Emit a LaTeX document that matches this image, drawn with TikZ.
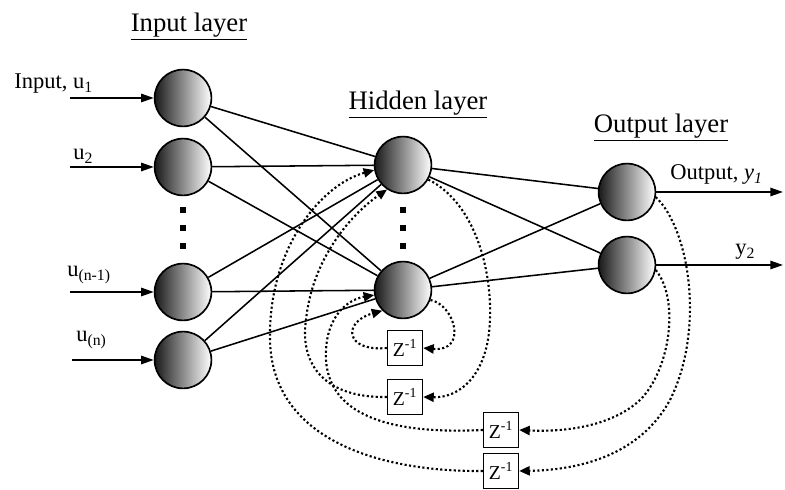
\documentclass[tikz,border=0pt]{standalone}
\usepackage{fontspec}
\setmainfont{Liberation Serif}
\usetikzlibrary{arrows.meta,positioning}

\tikzset{
  neuron/.style={circle,draw,line width=1.2pt,minimum size=1.42cm,inner sep=0pt,left color=black!90,right color=white},
  delaybox/.style={draw,line width=1pt,minimum size=0.875cm,inner sep=0pt,fill=white,font=\fontsize{14}{16}\selectfont},
  link/.style={line width=1.1pt},
  feedback/.style={line width=1.5pt,dash pattern=on 1.5pt off 1.7pt,-{Triangle[length=7.5pt,width=6.5pt]}},
  layername/.style={font=\fontsize{19}{22}\selectfont},
  signal/.style={font=\fontsize{16}{19}\selectfont,inner sep=0pt},
}

\begin{document}
\begin{tikzpicture}[x=0.025cm,y=-0.025cm,>={Triangle[length=9pt,width=6pt]}]
\useasboundingbox (0,0) rectangle (785,490);

% layer titles
\node[layername,anchor=base] (tin)  at (189,32)  {\underline{Input layer}};
\node[layername,anchor=base] (thid) at (418,110) {\underline{Hidden layer}};
\node[layername,anchor=base] (tout) at (661,133) {\underline{Output layer}};

% neurons
\foreach \n/\y in {1/98,2/167,3/292,4/360}
  \node[neuron] (in\n) at (183,\y) {};
\node[neuron] (hid1) at (403,165) {};
\node[neuron] (hid2) at (403,290) {};
\node[neuron] (out1) at (627,192) {};
\node[neuron] (out2) at (627,265) {};

% vertical ellipses
\foreach \x in {183,403}
  \foreach \y in {210,228,246}
    \fill (\x-3,\y-3) rectangle (\x+3,\y+3);

% inputs
\foreach \n/\x in {1/70,2/70,3/70,4/72}{
  \coordinate (src\n) at (\x,0 |- in\n);
  \draw[link,->] (src\n) -- (in\n);
}
\node[signal,anchor=base west] (lab1) at (14,89)  {Input, u\textsubscript{1}};
\node[signal,anchor=base west] (lab2) at (73,160) {u\textsubscript{2}};
\node[signal,anchor=base west] (lab3) at (67,277) {u\textsubscript{(n-1)}};
\node[signal,anchor=base west] (lab4) at (76,342) {u\textsubscript{(n)}};

% weights
\foreach \i in {1,...,4}
  \foreach \j in {1,2}
    \draw[link] (in\i) -- (hid\j);
\foreach \i in {1,2}
  \foreach \j in {1,2}
    \draw[link] (hid\i) -- (out\j);

% outputs
\foreach \n in {1,2}{
  \coordinate (dst\n) at (783,0 |- out\n);
  \draw[link,->] (out\n) -- (dst\n);
}
\node[signal,anchor=base west] (laby1) at (670,180) {Output, \textit{y\textsubscript{1}}};
\node[signal,anchor=base west] (laby2) at (735,255) {y\textsubscript{2}};

% unit delays
\node[delaybox] (z1) at (405,348) {Z\textsuperscript{-1}};
\node[delaybox] (z2) at (405,397) {Z\textsuperscript{-1}};
\node[delaybox] (z3) at (501,430) {Z\textsuperscript{-1}};
\node[delaybox] (z4) at (501,471) {Z\textsuperscript{-1}};

% recurrent paths
\draw[feedback] (hid2.-20) .. controls (455,305) and (468,352) .. (z1.east);
\draw[feedback] (z1.west) .. controls (345,352) and (342,322) .. (hid2.225);
\draw[feedback] (hid1.-30) .. controls (470,200) and (492,260) .. (490,320)
  .. controls (488,375) and (460,398) .. (z2.east);
\draw[feedback] (z2.west) .. controls (320,398) and (300,360) .. (306,320)
  .. controls (312,260) and (350,215) .. (hid1.237);
\draw[feedback] (out2.-10) .. controls (680,300) and (670,370) .. (640,400)
  .. controls (610,428) and (560,432) .. (z3.east);
\draw[feedback] (z3.west) .. controls (400,434) and (330,420) .. (326,360)
  .. controls (324,320) and (345,300) .. (hid2.190);
\draw[feedback] (out1.-10) .. controls (690,230) and (705,330) .. (670,400)
  .. controls (640,455) and (580,470) .. (z4.east);
\draw[feedback] (z4.west) .. controls (380,472) and (272,440) .. (270,340)
  .. controls (268,250) and (320,185) .. (hid1.190);
\end{tikzpicture}
\end{document}
